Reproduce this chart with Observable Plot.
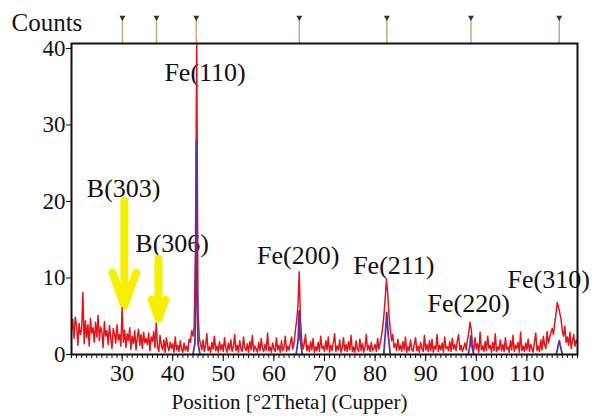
<!DOCTYPE html>
<html>
<head>
<meta charset="utf-8">
<script src="https://cdn.jsdelivr.net/npm/d3@7"></script>
<script src="https://cdn.jsdelivr.net/npm/@observablehq/plot@0.6"></script>
<style>
  html, body { margin: 0; padding: 0; background: #fff; }
  #chart svg, #chart svg text { font-family: "Liberation Serif", "Times New Roman", serif !important; }
</style>
</head>
<body>
<div id="chart"></div>
<script>
// Scan grid: 20°–120° 2θ, 0.25° steps
const scanStart = 20;
const scanStep = 0.25;

// Measured counts, one row per 5° of 2θ
const counts = [
  3.2,4.6,2.1,4.9,3.8,1.2,4.1,2.6,3.3,8.1,1.4,4.4,2.2,3.9,1.1,4.7,2.8,3.5,1.6,4.2,
  2.3,5.1,1.8,3.6,2.9,0.9,4.3,2.4,3.1,1.3,3.8,2.2,0.8,3.4,2.7,1.5,3.9,1.9,2.6,1.1,
  6.1,1.6,3.2,0.9,2.7,1.8,3.5,0.7,2.4,1.4,3.1,0.6,2.2,3.3,1.2,2.6,0.8,2.9,1.5,2.1,
  1.3,2.8,0.5,2.3,1.7,3.0,0.9,4.1,1.0,0.4,2.5,1.2,0.6,1.9,0.3,2.2,1.1,0.5,1.6,0.8,
  1.4,0.3,2.3,0.6,1.2,0.4,1.8,0.7,0.3,1.5,0.5,1.1,0.4,2.0,1.6,3.1,2.4,3.7,14.5,40.5,
  5.6,2.2,1.3,0.6,1.9,0.4,1.2,2.7,0.5,1.0,0.3,1.6,0.7,2.4,0.5,1.1,0.3,1.7,0.6,1.3,
  0.4,2.2,0.8,0.3,1.5,0.6,1.9,0.4,1.0,2.6,0.5,1.2,0.3,1.8,0.7,0.4,2.3,0.9,0.5,1.4,
  0.3,1.7,0.6,2.5,0.4,1.1,0.7,0.3,1.6,0.5,2.1,0.8,0.4,1.3,0.6,2.8,0.5,1.0,0.3,1.5,
  0.7,0.4,2.2,0.6,1.2,0.3,1.8,0.5,0.9,2.4,0.4,1.1,0.6,1.5,2.3,0.7,1.6,3.2,4.4,6.3,
  10.8,4.6,1.9,0.7,1.4,2.6,0.5,1.2,0.4,1.7,0.6,2.1,0.3,1.0,0.5,1.6,0.4,2.4,0.8,1.1,
  0.4,1.8,0.6,2.3,0.3,1.2,0.5,1.6,2.7,0.4,1.1,0.6,1.9,0.3,0.8,2.2,0.5,1.3,0.4,1.7,
  0.6,2.5,0.4,1.0,0.3,1.8,0.7,0.4,2.0,0.5,1.4,0.3,0.9,2.6,0.6,1.2,0.4,1.6,0.5,0.8,
  1.3,0.4,2.1,0.7,1.5,2.4,3.6,5.2,7.4,9.8,7.9,5.1,3.3,1.8,2.6,0.9,1.4,0.5,2.0,0.6,
  1.2,0.4,1.7,0.6,2.3,0.3,1.0,0.5,1.9,0.7,0.4,1.4,2.2,0.5,1.1,0.3,1.6,0.8,0.4,2.5,
  0.6,1.3,0.4,1.8,0.5,2.0,0.3,1.1,0.7,2.6,0.4,1.2,0.6,1.5,0.3,2.3,0.8,1.0,0.5,1.7,
  0.4,2.1,0.7,1.3,0.5,1.8,2.6,0.6,1.2,0.4,0.9,1.5,0.6,1.9,2.8,4.2,3.3,1.2,0.5,2.2,
  0.7,1.4,0.3,2.9,0.6,1.1,0.4,1.7,0.5,2.4,0.8,1.2,0.3,1.6,0.5,2.7,0.4,1.0,0.6,1.9,
  0.5,1.3,0.4,2.2,0.7,1.0,0.3,1.8,0.6,2.5,0.4,1.2,0.8,1.6,0.3,2.9,0.5,1.1,0.4,1.5,
  0.6,2.0,0.4,1.3,0.7,0.3,1.7,2.8,0.5,1.1,0.4,1.9,0.6,2.4,1.2,0.8,3.0,1.5,2.2,2.9,
  3.4,2.6,4.1,5.3,6.8,6.2,5.4,4.6,3.1,2.4,3.7,1.6,2.3,1.2,2.9,0.8,1.8,2.6,1.1,1.9,
  1.4
];

// Fitted Fe profile around each reflection (2θ, counts)
const fitPeak = [1, 1, 1, 1, 1, 1, 1, 2, 2, 2, 2, 2, 3, 3, 3, 3, 3, 4, 4, 4, 4, 4, 5, 5, 5, 5, 5];
const fitTheta = [44.0, 44.4, 44.55, 44.7, 44.85, 45.0, 45.4,
                  64.4, 64.8, 65.0, 65.2, 65.6,
                  81.7, 82.0, 82.3, 82.6, 83.0,
                  98.4, 98.75, 98.9, 99.1, 99.5,
                  115.8, 116.2, 116.4, 116.6, 117.0];
const fitCounts = [0, 1.5, 8, 28, 8, 1.5, 0,
                   0, 2, 5.7, 2, 0,
                   0, 2.5, 5.5, 2.5, 0,
                   0, 1.2, 2.4, 1.2, 0,
                   0, 1.2, 1.8, 1.2, 0];

// Reference pattern line positions (2θ)
const refLines = [30.06, 36.8, 44.67, 65.02, 82.33, 98.94, 116.39];

// Peak labels
const peakNames = ["Fe(110)", "B(303)", "B(306)", "Fe(200)", "Fe(211)", "Fe(220)", "Fe(310)"];
const peakLabelX = [46.4, 30.3, 39.9, 64.8, 83.7, 98.5, 114.3];
const peakLabelY = [36.9, 21.7, 14.5, 12.9, 11.6, 6.7, 9.8];

// Boron reflection pointers
const arrowX = [30.45, 37.2];
const arrowTop = [20.1, 12.5];
const arrowTip = [6.4, 4.7];

const xTicks = [30, 40, 50, 60, 70, 80, 90, 100, 110];
const yTicks = [0, 10, 20, 30, 40];

const yMax = 40.65;
const markerTop = 44.05;

const scan = counts.map((c, i) => ({theta: scanStart + i * scanStep, counts: c}));
const fit = fitTheta.map((t, i) => ({theta: t, counts: fitCounts[i], peak: fitPeak[i]}));

const serif = "Liberation Serif";

const chart = Plot.plot({
  width: 598,
  height: 419,
  marginLeft: 71,
  marginRight: 21,
  marginTop: 43,
  marginBottom: 65,
  style: {fontFamily: serif, background: "#fff", color: "#111", overflow: "visible"},
  x: {domain: [20, 120], label: null},
  y: {domain: [0, yMax], label: null},
  marks: [
    // reference markers above the plot frame
    Plot.ruleX(refLines, {y1: yMax, y2: markerTop, stroke: "#caa87c", strokeWidth: 1.5}),
    Plot.dot(refLines, {x: d => d, y: markerTop, symbol: "triangle", rotate: 180, r: 2.2, fill: "#333"}),
    // minor x ticks every degree
    Plot.axisX(d3.range(20, 121, 1), {tickSize: 4, tickFormat: () => "", stroke: "#111"}),
    Plot.axisX(xTicks, {tickSize: 7, tickPadding: 2, fontSize: 24, label: null, stroke: "#111", fontFamily: serif}),
    Plot.axisY(yTicks, {tickSize: 5, tickPadding: 1, fontSize: 23, label: null, stroke: "#111", fontFamily: serif}),
    Plot.text(["Counts"], {frameAnchor: "top-left", dx: -60, dy: -21, textAnchor: "start", lineAnchor: "middle", fontSize: 25, fontFamily: serif}),
    Plot.text(["Position [°2Theta] (Cupper)"], {frameAnchor: "bottom", dx: -35, dy: 48, lineAnchor: "middle", fontSize: 21, fontFamily: serif}),
    // peak annotations
    Plot.text(peakNames, {x: peakLabelX, y: peakLabelY, text: d => d, fontSize: 26, fontFamily: serif}),
    Plot.arrow(arrowX, {x1: arrowX, x2: arrowX, y1: arrowTop, y2: arrowTip,
      stroke: "#f4f000", strokeWidth: 8, headLength: 9, headAngle: 40}),
    // measured pattern
    Plot.line(scan, {x: "theta", y: "counts", stroke: "#e0161c", strokeWidth: 1.5}),
    // fitted Fe profile
    Plot.line(fit, {x: "theta", y: "counts", z: "peak", stroke: "#5b3496", strokeWidth: 1.8}),
    Plot.frame({stroke: "#111", strokeWidth: 2})
  ]
});

// every label in the same serif face
chart.querySelectorAll("g, text").forEach(el => el.style.setProperty("font-family", "'Liberation Serif', serif", "important"));

document.getElementById("chart").appendChild(chart);
</script>
</body>
</html>
